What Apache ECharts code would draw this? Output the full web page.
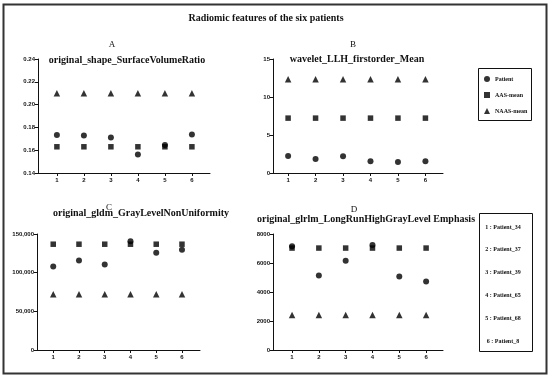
<!DOCTYPE html>
<html><head><meta charset="utf-8">
<script src="https://cdn.jsdelivr.net/npm/echarts@6/dist/echarts.min.js"></script>
<style>html,body{margin:0;padding:0;background:#fff}#c{width:550px;height:379px}</style>
</head><body><div id="c"></div>
<script>
const xTicks = [1, 2, 3, 4, 5, 6];
const patientNames = ['Patient_34', 'Patient_37', 'Patient_39', 'Patient_65', 'Patient_68', 'Patient_8'];
const seriesNames = ['Patient', 'AAS-mean', 'NAAS-mean'];
const panelLetters = ['A', 'B', 'C', 'D'];
const panelTitles = ['original_shape_SurfaceVolumeRatio', 'wavelet_LLH_firstorder_Mean', 'original_gldm_GrayLevelNonUniformity', 'original_glrlm_LongRunHighGrayLevel Emphasis'];
const mainTitle = 'Radiomic features of the six patients';

const patientA = [0.1734, 0.1730, 0.1711, 0.1562, 0.1645, 0.1738];
const aasA = [0.163, 0.163, 0.163, 0.163, 0.163, 0.163];
const naasA = [0.210, 0.210, 0.210, 0.210, 0.210, 0.210];

const patientB = [2.25, 1.85, 2.2, 1.55, 1.45, 1.55];
const aasB = [7.22, 7.22, 7.22, 7.22, 7.22, 7.22];
const naasB = [12.32, 12.32, 12.32, 12.32, 12.32, 12.32];

const patientC = [108000, 115800, 110600, 140600, 125800, 129600];
const aasC = [136800, 136800, 136800, 136800, 136800, 136800];
const naasC = [72200, 72200, 72200, 72200, 72200, 72200];

const patientD = [7150, 5130, 6150, 7250, 5070, 4720];
const aasD = [7030, 7030, 7030, 7030, 7030, 7030];
const naasD = [2420, 2420, 2420, 2420, 2420, 2420];

const yTicksA = [0.14, 0.16, 0.18, 0.20, 0.22, 0.24];
const yTicksB = [0, 5, 10, 15];
const yTicksC = [0, 50000, 100000, 150000];
const yTicksD = [0, 2000, 4000, 6000, 8000];

const panels = [
  {p: patientA, a: aasA, n: naasA, yt: yTicksA, fmt: v => v.toFixed(2)},
  {p: patientB, a: aasB, n: naasB, yt: yTicksB, fmt: v => String(v)},
  {p: patientC, a: aasC, n: naasC, yt: yTicksC, fmt: v => v.toLocaleString('en-US')},
  {p: patientD, a: aasD, n: naasD, yt: yTicksD, fmt: v => String(v)}
];

const grids = [
  {left: 38, top: 59, width: 172, height: 114, xmin: 0.3, xmax: 6.67},
  {left: 273, top: 59, width: 170, height: 114, xmin: 0.45, xmax: 6.64},
  {left: 37, top: 234, width: 163, height: 116, xmin: 0.37, xmax: 6.7},
  {left: 273, top: 234, width: 170, height: 116, xmin: 0.29, xmax: 6.63}
];

const tickFont = {fontFamily: 'Liberation Sans', fontSize: 6, fontWeight: 'bold', color: '#111'};
const symbols = ['circle', 'rect', 'triangle'];
const sizes = [6, 5.5, 6.5];

const option = {
  animation: false,
  backgroundColor: '#fff',
  grid: grids.map(g => ({left: g.left, top: g.top, width: g.width, height: g.height})),
  xAxis: grids.map((g, i) => ({
    type: 'value', gridIndex: i, min: g.xmin, max: g.xmax,
    splitLine: {show: false},
    axisLine: {lineStyle: {color: '#111', width: 1}},
    axisTick: {customValues: xTicks, length: 3, lineStyle: {color: '#111'}},
    axisLabel: Object.assign({customValues: xTicks, margin: 4}, tickFont)
  })),
  yAxis: panels.map((pn, i) => ({
    type: 'value', gridIndex: i, min: pn.yt[0], max: pn.yt[pn.yt.length - 1],
    splitLine: {show: false},
    axisLine: {show: true, lineStyle: {color: '#111', width: 1}},
    axisTick: {show: true, customValues: pn.yt, length: 3, lineStyle: {color: '#111'}},
    axisLabel: Object.assign({customValues: pn.yt, margin: 3, formatter: pn.fmt}, tickFont)
  })),
  legend: {
    left: 479, top: 71, orient: 'vertical', itemGap: 10,
    itemWidth: 6, itemHeight: 6, selectedMode: false,
    data: seriesNames.map((n, k) => ({name: n, icon: symbols[k]})),
    textStyle: {fontFamily: 'Liberation Serif', fontSize: 6, fontWeight: 'bold', color: '#111', width: 34, align: 'center'}
  },
  series: [],
  graphic: []
};

panels.forEach((pn, i) => {
  [pn.p, pn.a, pn.n].forEach((arr, k) => {
    option.series.push({
      name: seriesNames[k], type: 'scatter', xAxisIndex: i, yAxisIndex: i,
      symbol: symbols[k], symbolSize: sizes[k],
      itemStyle: {color: '#000'},
      data: xTicks.map((x, j) => [x, arr[j]])
    });
  });
});

const g = option.graphic;
g.push({type: 'rect', shape: {x: 3.5, y: 4.5, width: 543, height: 369}, style: {fill: null, stroke: '#333', lineWidth: 2}, silent: true});
g.push({type: 'text', x: 266, y: 18, style: {text: mainTitle, font: 'bold 10px "Liberation Serif"', fill: '#111', align: 'center', verticalAlign: 'middle'}});
const letterPos = [[112, 45], [353, 45], [109, 208], [354, 210]];
const titlePos = [[127, 60.5], [357, 59.5], [141, 213], [366, 219]];
panelLetters.forEach((l, i) => {
  g.push({type: 'text', x: letterPos[i][0], y: letterPos[i][1], style: {text: l, font: '9px "Liberation Serif"', fill: '#111', align: 'center', verticalAlign: 'middle'}});
  g.push({type: 'text', x: titlePos[i][0], y: titlePos[i][1], style: {text: panelTitles[i], font: 'bold 10px "Liberation Serif"', fill: '#111', align: 'center', verticalAlign: 'middle'}});
});
g.push({type: 'rect', shape: {x: 478.5, y: 68.5, width: 53, height: 52}, style: {fill: null, stroke: '#111', lineWidth: 1}});
g.push({type: 'rect', shape: {x: 479.5, y: 213.5, width: 53, height: 138}, style: {fill: null, stroke: '#111', lineWidth: 1}});
patientNames.forEach((n, j) => {
  g.push({type: 'text', x: 503, y: 227 + j * 22.8, style: {text: xTicks[j] + ' : ' + n, font: 'bold 6px "Liberation Serif"', fill: '#111', align: 'center', verticalAlign: 'middle'}});
});

echarts.init(document.getElementById('c'), null, {renderer: 'canvas'}).setOption(option);
</script></body></html>
